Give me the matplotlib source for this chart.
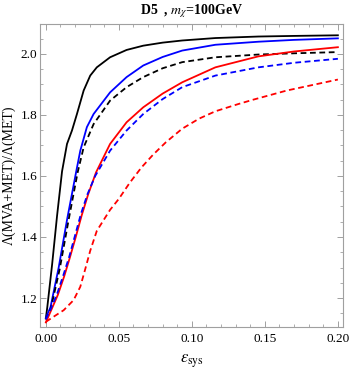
import matplotlib
matplotlib.use("Agg")
import matplotlib.pyplot as plt
from matplotlib.ticker import MultipleLocator, FormatStrFormatter

plt.rcParams['font.family'] = ['Liberation Serif', 'DejaVu Serif']
plt.rcParams['mathtext.fontset'] = 'stix'

# Data
x_black_solid = [0, 0.0010, 0.0043, 0.0077, 0.0111, 0.0145, 0.0179, 0.0213, 0.0259, 0.0304, 0.0349,
                 0.044, 0.0553, 0.0667, 0.0800, 0.0934, 0.1161, 0.1456, 0.17, 0.2]
y_black_solid = [1.133, 1.17, 1.31, 1.47, 1.615, 1.705, 1.749, 1.803, 1.88, 1.929, 1.956,
                 1.989, 2.013, 2.027, 2.037, 2.044, 2.052, 2.057, 2.059, 2.061]

x_blue_solid = [0, 0.0032, 0.0088, 0.0145, 0.0207, 0.0236, 0.0281, 0.0327, 0.044, 0.0553, 0.0667,
                0.0800, 0.0934, 0.1161, 0.1456, 0.17, 0.2]
y_blue_solid = [1.135, 1.17, 1.30, 1.456, 1.612, 1.683, 1.76, 1.803, 1.874, 1.924, 1.962,
                1.99, 2.011, 2.03, 2.04, 2.046, 2.051]

x_black_dash = [0, 0.0034, 0.0095, 0.0156, 0.0218, 0.0259, 0.0327, 0.044, 0.0553, 0.0667, 0.0800,
                0.0934, 0.1161, 0.1456, 0.17, 0.2]
y_black_dash = [1.13, 1.165, 1.295, 1.456, 1.612, 1.694, 1.77, 1.847, 1.891, 1.924, 1.953,
                1.973, 1.989, 1.998, 2.002, 2.006]

x_red_solid = [0, 0.0032, 0.0082, 0.0125, 0.0163, 0.0205, 0.0245, 0.029, 0.0344, 0.044, 0.0553,
               0.0667, 0.0800, 0.0934, 0.1161, 0.1456, 0.17, 0.2]
y_red_solid = [1.12, 1.155, 1.21, 1.27, 1.33, 1.40, 1.47, 1.54, 1.612, 1.705, 1.776,
               1.825, 1.87, 1.907, 1.956, 1.992, 2.008, 2.022]

x_blue_dash = [0, 0.003, 0.0078, 0.012, 0.016, 0.020, 0.024, 0.0285, 0.0338, 0.044, 0.0553,
               0.0667, 0.0800, 0.0934, 0.1161, 0.1456, 0.17, 0.2]
y_blue_dash = [1.13, 1.16, 1.215, 1.275, 1.335, 1.405, 1.475, 1.54, 1.60, 1.683, 1.749,
               1.803, 1.852, 1.891, 1.929, 1.956, 1.971, 1.984]

x_red_dash = [0, 0.0054, 0.0122, 0.019, 0.0236, 0.027, 0.0304, 0.0349, 0.044, 0.0500, 0.0575,
              0.0655, 0.0735, 0.0821, 0.0934, 0.105, 0.1161, 0.132, 0.142, 0.165, 0.2]
y_red_dash = [1.122, 1.139, 1.16, 1.193, 1.237, 1.295, 1.355, 1.42, 1.489, 1.525, 1.578,
              1.628, 1.670, 1.710, 1.755, 1.788, 1.812, 1.836, 1.850, 1.880, 1.916]

fig = plt.figure(figsize=(3.49, 3.70), dpi=100)
ax = fig.add_axes([0.1146, 0.1162, 0.8682, 0.8189])

lw = 1.3
dash = (0, (3.2, 2.0))
ax.plot(x_black_solid, y_black_solid, color='black', lw=lw)
ax.plot(x_blue_solid, y_blue_solid, color='#0000ff', lw=lw)
ax.plot(x_black_dash, y_black_dash, color='black', lw=lw, linestyle=dash)
ax.plot(x_red_solid, y_red_solid, color='#ff0000', lw=lw)
ax.plot(x_blue_dash, y_blue_dash, color='#0000ff', lw=lw, linestyle=dash)
ax.plot(x_red_dash, y_red_dash, color='#ff0000', lw=lw, linestyle=dash)

ax.set_xlim(-0.004, 0.2035)
ax.set_ylim(1.105, 2.098)

ax.xaxis.set_major_locator(MultipleLocator(0.05))
ax.xaxis.set_minor_locator(MultipleLocator(0.01))
ax.yaxis.set_major_locator(MultipleLocator(0.2))
ax.yaxis.set_minor_locator(MultipleLocator(0.05))
ax.xaxis.set_major_formatter(FormatStrFormatter('%.2f'))
ax.yaxis.set_major_formatter(FormatStrFormatter('%.1f'))

for s in ax.spines.values():
    s.set_color('#a0a0a0')
    s.set_linewidth(0.8)
ax.tick_params(which='both', direction='in', top=True, right=True, color='#a0a0a0', labelsize=9.5)
ax.tick_params(axis='y', pad=2)
ax.tick_params(axis='x', pad=4)
ax.tick_params(which='major', length=4, width=0.7)
ax.tick_params(which='minor', length=2, width=0.6)

ax.set_xlabel(r'$\varepsilon_{\mathrm{sys}}$', fontsize=12, labelpad=6)
ax.set_ylabel('Λ(MVA+MET)/Λ(MET)', fontsize=10, labelpad=3)
ax.set_title(r'D5  , $\boldsymbol{m_{\chi}}$=100GeV', fontsize=10, fontweight='bold', pad=7)

fig.savefig('out.png', dpi=100)
